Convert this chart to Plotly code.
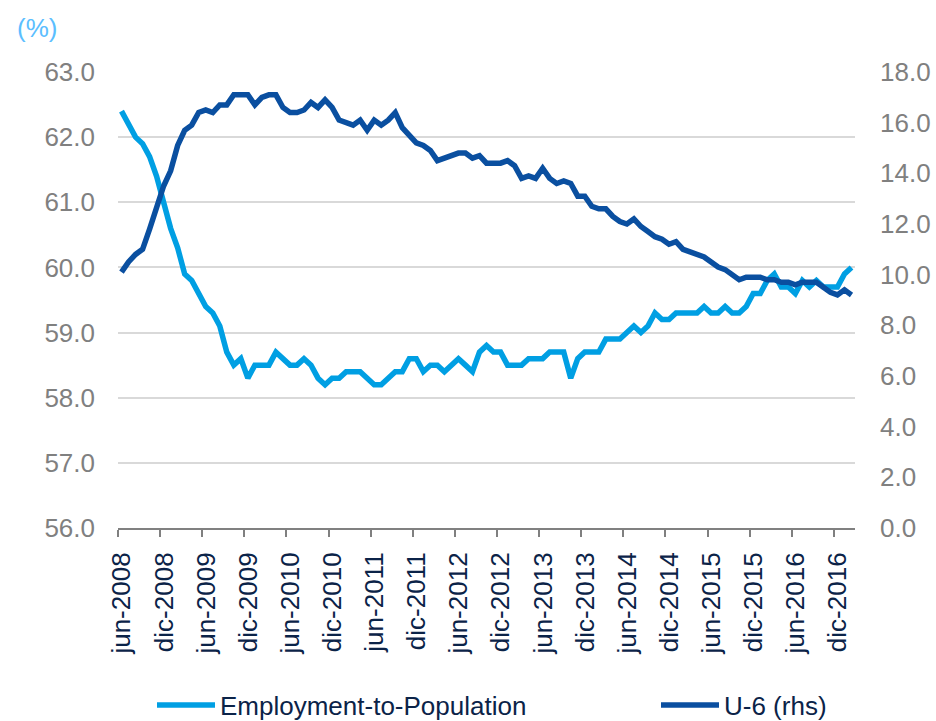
import plotly.graph_objects as go

# ---- data (monthly, jun-2008 .. feb-2017) ----
emp_to_pop = [
    62.4, 62.2, 62.0, 61.9, 61.7, 61.4, 61.0,            # jun-dic 2008
    60.6, 60.3, 59.9, 59.8, 59.6, 59.4, 59.3, 59.1, 58.7, 58.5, 58.6, 58.3,  # 2009
    58.5, 58.5, 58.5, 58.7, 58.6, 58.5, 58.5, 58.6, 58.5, 58.3, 58.2, 58.3,  # 2010
    58.3, 58.4, 58.4, 58.4, 58.3, 58.2, 58.2, 58.3, 58.4, 58.4, 58.6, 58.6,  # 2011
    58.4, 58.5, 58.5, 58.4, 58.5, 58.6, 58.5, 58.4, 58.7, 58.8, 58.7, 58.7,  # 2012
    58.5, 58.5, 58.5, 58.6, 58.6, 58.6, 58.7, 58.7, 58.7, 58.3, 58.6, 58.7,  # 2013
    58.7, 58.7, 58.9, 58.9, 58.9, 59.0, 59.1, 59.0, 59.1, 59.3, 59.2, 59.2,  # 2014
    59.3, 59.3, 59.3, 59.3, 59.4, 59.3, 59.3, 59.4, 59.3, 59.3, 59.4, 59.6,  # 2015
    59.6, 59.8, 59.9, 59.7, 59.7, 59.6, 59.8, 59.7, 59.8, 59.7, 59.7, 59.7,  # 2016
    59.9, 60.0,                                            # 2017
]
u6 = [
    10.1, 10.5, 10.8, 11.0, 11.8, 12.6, 13.5,
    14.1, 15.1, 15.7, 15.9, 16.4, 16.5, 16.4, 16.7, 16.7, 17.1, 17.1, 17.1,
    16.7, 17.0, 17.1, 17.1, 16.6, 16.4, 16.4, 16.5, 16.8, 16.6, 16.9, 16.6,
    16.1, 16.0, 15.9, 16.1, 15.7, 16.1, 15.9, 16.1, 16.4, 15.8, 15.5, 15.2,
    15.1, 14.9, 14.5, 14.6, 14.7, 14.8, 14.8, 14.6, 14.7, 14.4, 14.4, 14.4,
    14.5, 14.3, 13.8, 13.9, 13.8, 14.2, 13.8, 13.6, 13.7, 13.6, 13.1, 13.1,
    12.7, 12.6, 12.6, 12.3, 12.1, 12.0, 12.2, 11.9, 11.7, 11.5, 11.4, 11.2,
    11.3, 11.0, 10.9, 10.8, 10.7, 10.5, 10.3, 10.2, 10.0, 9.8, 9.9, 9.9,
    9.9, 9.8, 9.8, 9.7, 9.7, 9.6, 9.7, 9.7, 9.7, 9.5, 9.3, 9.2,
    9.4, 9.2,
]
tick_labels = [
    "jun-2008", "dic-2008", "jun-2009", "dic-2009", "jun-2010", "dic-2010",
    "jun-2011", "dic-2011", "jun-2012", "dic-2012", "jun-2013", "dic-2013",
    "jun-2014", "dic-2014", "jun-2015", "dic-2015", "jun-2016", "dic-2016",
]
months = list(range(len(emp_to_pop)))
tick_pos = [6 * k - 0.5 for k in range(len(tick_labels))]

LIGHT = "#009fe3"
DARK = "#0a4fa0"
NAVY = "#0b2348"
GREY = "#808080"
FONT = "Liberation Sans, Arial, sans-serif"

W, H = 936, 721
ML, MR, MT, MB = 118, 81, 72, 193
PW, PH = W - ML - MR, H - MT - MB

fig = go.Figure()
fig.add_trace(go.Scatter(
    x=months, y=u6, name="U-6 (rhs)", yaxis="y2", mode="lines",
    line=dict(color=DARK, width=5.5), legend="legend2",
))
fig.add_trace(go.Scatter(
    x=months, y=emp_to_pop, name="Employment-to-Population", mode="lines",
    line=dict(color=LIGHT, width=5.5), legend="legend",
))

legend_common = dict(
    orientation="h", xref="container", yref="container",
    xanchor="left", yanchor="middle", y=1 - 705 / H,
    font=dict(family=FONT, size=26, color=NAVY),
    itemwidth=58, bgcolor="rgba(0,0,0,0)", borderwidth=0,
)

fig.update_layout(
    width=W, height=H,
    margin=dict(l=ML, r=MR, t=MT, b=MB, autoexpand=False),
    paper_bgcolor="white", plot_bgcolor="white",
    font=dict(family=FONT, size=26, color=GREY),
    showlegend=True,
    legend=dict(legend_common, x=152 / W),
    legend2=dict(legend_common, x=656 / W),
    xaxis=dict(
        range=[-0.5, len(months) - 0.5],
        tickmode="array", tickvals=tick_pos, ticktext=tick_labels,
        tickangle=-90, ticklabelshift=4, ticklabelstandoff=5,
        ticks="outside", ticklen=7, tickwidth=1.5, tickcolor=GREY,
        showline=True, linecolor=GREY, linewidth=2,
        showgrid=False, zeroline=False, automargin=False,
        tickfont=dict(family=FONT, size=26, color=NAVY),
    ),
    yaxis=dict(
        range=[56, 63], dtick=1, tick0=56, tickformat=".1f",
        showgrid=True, gridcolor="#d9d9d9", gridwidth=1.5,
        zeroline=False, showline=False, ticks="", automargin=False,
        ticklabelstandoff=22,
        tickfont=dict(family=FONT, size=26, color=GREY),
    ),
    yaxis2=dict(
        range=[0, 18], dtick=2, tick0=0, tickformat=".1f",
        overlaying="y", side="right",
        showgrid=False, zeroline=False, showline=False, ticks="", automargin=False,
        ticklabelstandoff=24,
        tickfont=dict(family=FONT, size=26, color=GREY),
    ),
    annotations=[dict(
        text="(%)", xref="paper", yref="paper",
        x=(15 - ML) / PW, y=(H - MB - 28) / PH,
        xanchor="left", yanchor="middle", showarrow=False,
        font=dict(family=FONT, size=26, color="#5bbeff"),
    )],
)

fig.write_html(
    "out.html",
    config={"displayModeBar": False},
    post_script="document.body.style.margin='0';document.body.style.overflow='hidden';",
)
